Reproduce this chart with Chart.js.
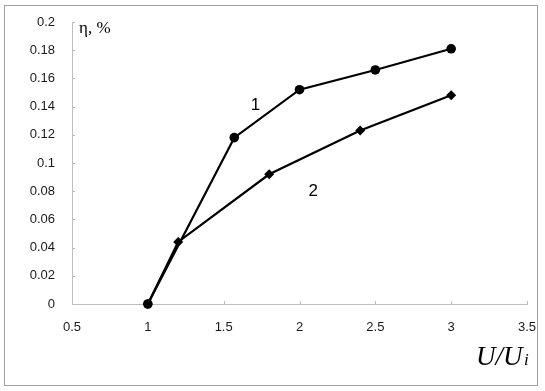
<!DOCTYPE html>
<html>
<head>
<meta charset="utf-8">
<script src="https://cdn.jsdelivr.net/npm/chart.js@4/dist/chart.umd.min.js"></script>
<style>
  html, body { margin: 0; padding: 0; background: #fff; }
  #wrap { width: 545px; height: 391px; position: relative; }
</style>
</head>
<body>
<div id="wrap"><canvas id="chart" width="545" height="391"></canvas></div>
<script>
// curve 1 (circles) and curve 2 (diamonds)
const ratio1 = [1, 1.57, 2, 2.5, 3];
const eta1 = [0, 0.118, 0.152, 0.166, 0.181];
const ratio2 = [1, 1.2, 1.8, 2.4, 3];
const eta2 = [0, 0.044, 0.092, 0.123, 0.148];

const xTicks = [0.5, 1, 1.5, 2, 2.5, 3, 3.5];
const yTicks = [0, 0.02, 0.04, 0.06, 0.08, 0.1, 0.12, 0.14, 0.16, 0.18, 0.2];

// where the curve numbers sit, in data units
const curveLabels = [
  { text: '1', x: 1.71, y: 0.141 },
  { text: '2', x: 2.09, y: 0.080 }
];

const toPoints = (xs, ys) => xs.map((x, i) => ({ x, y: ys[i] }));

const axisGray = '#bdbdbd';

// frame, inward tick marks, axis names and curve numbers
const decorations = {
  id: 'decorations',
  beforeDatasetsDraw(chart) {
    const { ctx, scales } = chart;
    const xs = scales.x;
    const ys = scales.y;
    ctx.save();

    // outer frame
    ctx.strokeStyle = '#a0a0a0';
    ctx.lineWidth = 1;
    ctx.strokeRect(4.5, 5.5, 533, 380);

    // small tick marks pointing into the plot (under the curves)
    ctx.strokeStyle = axisGray;
    ctx.beginPath();
    xTicks.forEach(v => {
      const px = Math.round(xs.getPixelForValue(v)) + 0.5;
      ctx.moveTo(px, ys.bottom);
      ctx.lineTo(px, ys.bottom - 3);
    });
    yTicks.forEach(v => {
      const py = Math.round(ys.getPixelForValue(v)) + 0.5;
      ctx.moveTo(xs.left, py);
      ctx.lineTo(xs.left + 3, py);
    });
    ctx.stroke();
    ctx.restore();
  },
  afterDraw(chart) {
    const { ctx, scales } = chart;
    const xs = scales.x;
    const ys = scales.y;
    ctx.save();

    // curve numbers
    ctx.fillStyle = '#000';
    ctx.font = '17px "Liberation Sans", Arial, sans-serif';
    ctx.textAlign = 'center';
    ctx.textBaseline = 'middle';
    curveLabels.forEach(l => {
      ctx.fillText(l.text, xs.getPixelForValue(l.x), ys.getPixelForValue(l.y));
    });

    // y axis name
    ctx.textAlign = 'left';
    ctx.textBaseline = 'alphabetic';
    ctx.font = '17px "Liberation Serif", "Times New Roman", serif';
    ctx.fillText('η, %', 79, 33);

    // x axis name
    ctx.font = 'italic 27px "Liberation Serif", "Times New Roman", serif';
    ctx.fillText('U/U', 476, 365);
    ctx.font = 'italic 17px "Liberation Serif", "Times New Roman", serif';
    ctx.fillText('i', 524, 365);

    ctx.restore();
  }
};

const fmt = v => String(Number(v.toFixed(2)));

new Chart(document.getElementById('chart'), {
  type: 'line',
  data: {
    datasets: [
      {
        label: '1',
        data: toPoints(ratio1, eta1),
        borderColor: '#000',
        backgroundColor: '#000',
        borderWidth: 2.2,
        pointStyle: 'circle',
        pointRadius: 4.8,
        pointBorderWidth: 0,
        clip: false
      },
      {
        label: '2',
        data: toPoints(ratio2, eta2),
        borderColor: '#000',
        backgroundColor: '#000',
        borderWidth: 2.2,
        pointStyle: 'rectRot',
        pointRadius: 5,
        pointBorderWidth: 0,
        clip: false
      }
    ]
  },
  options: {
    responsive: false,
    animation: false,
    layout: { padding: { top: 22, right: 18, left: 0, bottom: 0 } },
    plugins: {
      legend: { display: false },
      tooltip: { enabled: false }
    },
    scales: {
      x: {
        type: 'linear',
        min: 0.5,
        max: 3.5,
        afterFit: s => { s.height = 87; },
        afterBuildTicks: s => { s.ticks = xTicks.map(v => ({ value: v })); },
        grid: { display: false },
        border: { display: true, color: axisGray, width: 1 },
        ticks: {
          padding: 8,
          color: '#1a1a1a',
          font: { family: '"Liberation Sans", Arial, sans-serif', size: 13 },
          maxRotation: 0,
          callback: v => fmt(v)
        }
      },
      y: {
        type: 'linear',
        min: 0,
        max: 0.2,
        afterFit: s => { s.width = 72; },
        afterBuildTicks: s => { s.ticks = yTicks.map(v => ({ value: v })); },
        grid: { display: false },
        border: { display: true, color: axisGray, width: 1 },
        ticks: {
          padding: 9,
          color: '#1a1a1a',
          font: { family: '"Liberation Sans", Arial, sans-serif', size: 13 },
          callback: v => fmt(v)
        }
      }
    }
  },
  plugins: [decorations]
});
</script>
</body>
</html>
